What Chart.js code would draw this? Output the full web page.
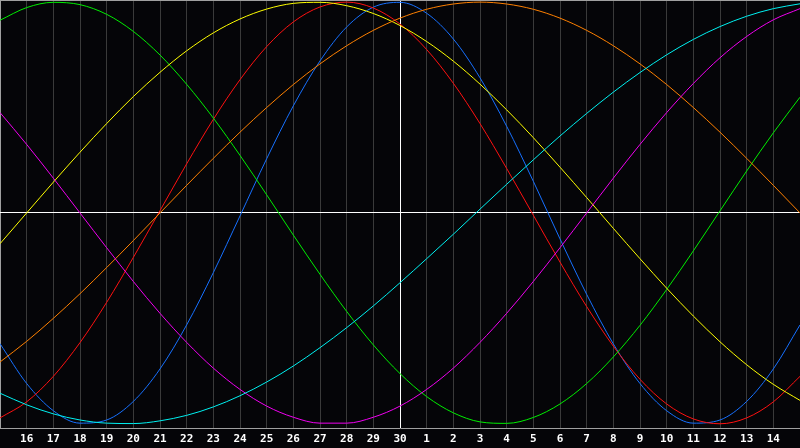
<!DOCTYPE html>
<html>
<head>
<meta charset="utf-8">
<script src="https://cdn.jsdelivr.net/npm/chart.js@4/dist/chart.umd.min.js"></script>
<style>
  html, body { margin: 0; padding: 0; background: #050508; }
  #wrap { width: 800px; height: 448px; }
</style>
</head>
<body>
<div id="wrap"><canvas id="chart"></canvas></div>
<script>
// days shown along the bottom (first and last are the edges, not labelled)
const days = ['15','16','17','18','19','20','21','22','23','24','25','26','27','28','29','30',
  '1','2','3','4','5','6','7','8','9','10','11','12','13','14','15'];
const todayIndex = 15;

// curve values, -1 .. 1
const blue = [-0.620,-0.809,-0.938,-0.997,-0.982,-0.894,-0.740,-0.531,-0.283,-0.014,
  0.257,0.508,0.721,0.882,0.976,0.999,0.947,0.825,0.641,0.411,
  0.150,-0.123,-0.386,-0.621,-0.809,-0.938,-0.997,-0.982,-0.894,-0.740,-0.531];
const red = [-0.972,-0.896,-0.775,-0.615,-0.424,-0.211,0.011,0.233,0.444,0.632,
  0.789,0.906,0.977,1.000,0.972,0.896,0.775,0.615,0.424,0.211,
  -0.011,-0.233,-0.444,-0.632,-0.789,-0.906,-0.977,-1.000,-0.972,-0.896,-0.775];
const green = [0.914,0.974,0.999,0.988,0.942,0.861,0.749,0.610,0.450,0.273,
  0.086,-0.105,-0.291,-0.467,-0.626,-0.762,-0.871,-0.948,-0.991,-0.998,
  -0.970,-0.906,-0.809,-0.683,-0.533,-0.363,-0.180,0.010,0.199,0.380,0.549];
const yellow = [-0.146,0.000,0.146,0.288,0.424,0.552,0.667,0.769,0.854,0.920,
  0.967,0.994,0.999,0.983,0.946,0.889,0.813,0.720,0.611,0.489,
  0.357,0.217,0.073,-0.073,-0.217,-0.357,-0.489,-0.611,-0.720,-0.813,-0.889];
const orange = [-0.707,-0.609,-0.500,-0.383,-0.259,-0.131,0.000,0.131,0.259,0.383,
  0.500,0.609,0.707,0.793,0.866,0.924,0.966,0.991,1.000,0.991,
  0.966,0.924,0.866,0.793,0.707,0.609,0.500,0.383,0.259,0.131,0.000];
const cyan = [-0.855,-0.910,-0.953,-0.982,-0.997,-0.999,-0.986,-0.960,-0.920,-0.867,
  -0.802,-0.726,-0.639,-0.544,-0.441,-0.331,-0.217,-0.101,0.018,0.136,
  0.252,0.365,0.472,0.573,0.666,0.750,0.823,0.884,0.933,0.969,0.992];
const magenta = [0.476,0.325,0.165,0.000,-0.165,-0.325,-0.476,-0.614,-0.736,-0.837,
  -0.916,-0.969,-0.997,-0.997,-0.969,-0.916,-0.837,-0.736,-0.614,-0.476,
  -0.325,-0.165,0.000,0.165,0.325,0.476,0.614,0.736,0.837,0.916,0.969];

function line(data, color) {
  return {
    data: data,
    borderColor: color,
    borderWidth: 1,
    pointRadius: 0,
    fill: false,
    cubicInterpolationMode: 'monotone',
  };
}

// page background behind the plot
const bgPlugin = {
  id: 'bg',
  beforeDraw(chart) {
    const ctx = chart.ctx;
    ctx.save();
    ctx.fillStyle = '#050508';
    ctx.fillRect(0, 0, chart.width, chart.height);
    ctx.restore();
  }
};

new Chart(document.getElementById('chart'), {
  type: 'line',
  data: {
    labels: days,
    datasets: [
      line(cyan, '#00f0f0'),
      line(magenta, '#f000f0'),
      line(orange, '#ff8000'),
      line(yellow, '#ffff00'),
      line(green, '#00ee00'),
      line(red, '#ff1010'),
      line(blue, '#1670ff'),
    ],
  },
  options: {
    responsive: true,
    maintainAspectRatio: false,
    animation: false,
    layout: { padding: 0 },
    plugins: { legend: { display: false }, tooltip: { enabled: false } },
    scales: {
      x: {
        offset: false,
        afterFit: (s) => { s.paddingLeft = 0; s.paddingRight = 0; s.height = 20; },
        border: { display: true, color: '#a0a0a0', width: 1 },
        grid: {
          drawTicks: false,
          lineWidth: 1,
          color: (c) => {
            if (c.index === todayIndex) return '#ffffff';
            if (c.index === 0) return '#a0a0a0';
            return '#3a3a3a';
          },
        },
        ticks: {
          autoSkip: false,
          maxRotation: 0,
          padding: 5,
          color: '#ffffff',
          font: { family: 'DejaVu Sans Mono', size: 11, weight: 'bold' },
          callback: function (v, i) {
            return (i === 0 || i === days.length - 1) ? '' : days[i];
          },
        },
      },
      y: {
        min: -1.02,
        max: 1.01,
        afterFit: (s) => { s.width = 0; s.paddingTop = 0; s.paddingBottom = 0; },
        border: { display: false },
        afterBuildTicks: (s) => { s.ticks = [{ value: -1.02 }, { value: 0 }, { value: 1.01 }]; },
        grid: {
          drawTicks: false,
          lineWidth: 1,
          color: (c) => {
            if (c.tick.value === 0) return '#ffffff';
            if (c.tick.value === 1.01) return '#a0a0a0';
            return 'rgba(0,0,0,0)';
          },
        },
        ticks: { display: false },
      },
    },
  },
  plugins: [bgPlugin],
});
</script>
</body>
</html>
